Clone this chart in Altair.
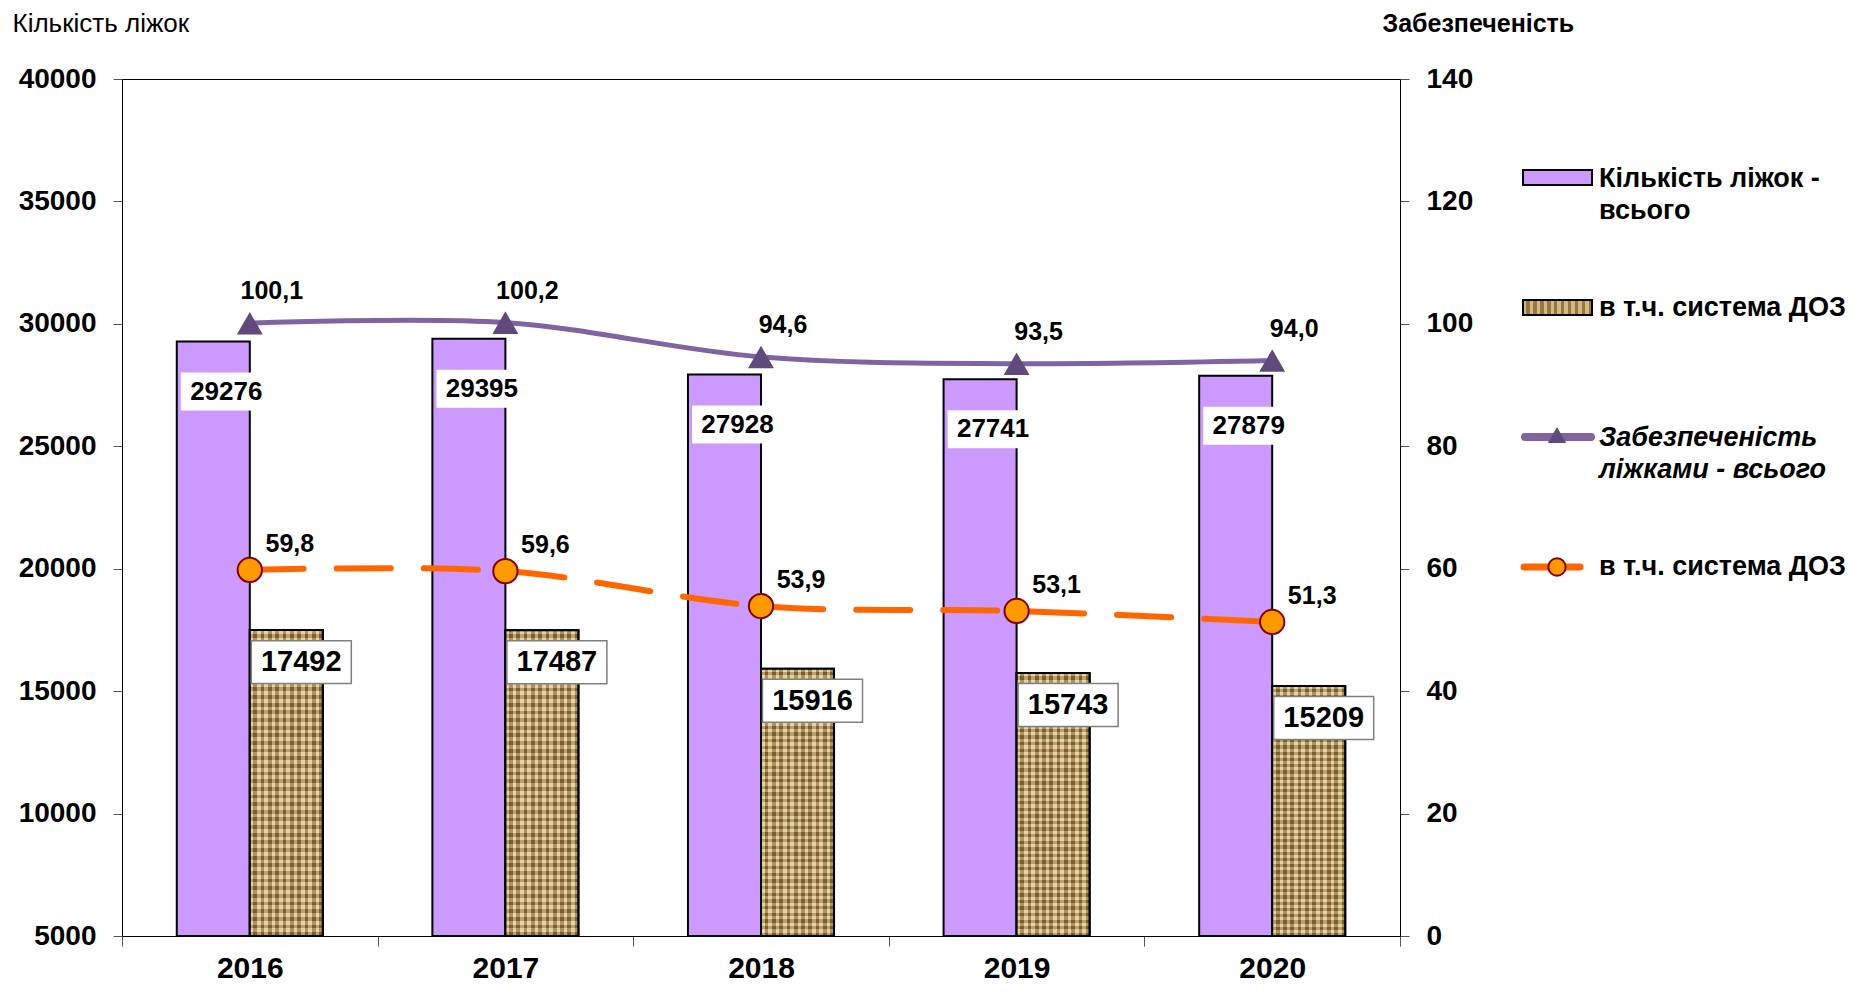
import altair as alt
import pandas as pd

# ---- data ----
years = ["2016", "2017", "2018", "2019", "2020"]
beds_total = [29276, 29395, 27928, 27741, 27879]
beds_doz = [17492, 17487, 15916, 15743, 15209]
supply_total = [100.1, 100.2, 94.6, 93.5, 94.0]
supply_doz = [59.8, 59.6, 53.9, 53.1, 51.3]
left_ticks = [5000, 10000, 15000, 20000, 25000, 30000, 35000, 40000]
right_ticks = [0, 20, 40, 60, 80, 100, 120, 140]
legend_labels = ["Кількість ліжок -", "всього", "в т.ч. система ДОЗ",
                 "Забезпеченість", "ліжками - всього", "в т.ч. система ДОЗ"]
y_title_left = "Кількість ліжок"
y_title_right = "Забезпеченість"

FONT = "Liberation Sans"
W, H = 1278, 857
PURPLE_FILL = "#CC99FF"
BURLAP = "#B89A5E"

bars_df = pd.DataFrame(
    [{"year": y, "s": "total", "value": v} for y, v in zip(years, beds_total)]
    + [{"year": y, "s": "doz", "value": v} for y, v in zip(years, beds_doz)]
)
total_df = bars_df[bars_df.s == "total"]
doz_df = bars_df[bars_df.s == "doz"]

def fmt(v):
    return f"{v:.1f}".replace(".", ",")

line_total_df = pd.DataFrame({"year": years, "value": supply_total,
                              "label": [fmt(v) for v in supply_total]})
line_doz_df = pd.DataFrame({"year": years, "value": supply_doz,
                            "label": [fmt(v) for v in supply_doz]})

# ---- scales / axes ----
xscale = alt.Scale(type="band", paddingInner=0, paddingOuter=0)
xaxis = alt.Axis(title=None, labelFontSize=30, labelFontWeight="bold", labelAngle=0,
                 tickBand="extent", tickSize=10, labelPadding=7,
                 domainColor="black", tickColor="#555")
X = alt.X("year:N", scale=xscale, axis=xaxis, sort=years)
XOFF = alt.XOffset("s:N", scale=alt.Scale(domain=["total", "doz"], paddingInner=0, paddingOuter=0.75))

yscale_l = alt.Scale(domain=[5000, 40000], nice=False, zero=False)
yaxis_l = alt.Axis(values=left_ticks, format="d", title=y_title_left, titleAngle=0,
                   titleX=-110, titleY=-56, titleAlign="left", titleBaseline="middle",
                   titleFontWeight="normal", titleFontSize=26,
                   labelFontSize=28, labelFontWeight="bold", tickSize=9, labelPadding=17,
                   grid=False, domainColor="black", tickColor="#555")
YL = alt.Y("value:Q", scale=yscale_l, axis=yaxis_l)

yscale_r = alt.Scale(domain=[0, 140], nice=False, zero=True)
yaxis_r = alt.Axis(values=right_ticks, format="d", orient="right", title=y_title_right,
                   titleAngle=0, titleX=-18, titleY=-56, titleAlign="left",
                   titleBaseline="middle", titleFontWeight="bold", titleFontSize=25,
                   labelFontSize=28, labelFontWeight="bold", tickSize=9, labelPadding=17,
                   grid=False, domainColor="black", tickColor="#555")
YR = alt.Y("value:Q", scale=yscale_r, axis=yaxis_r)

# ---- burlap texture via striped gradients ----
def stripes(n, vertical, c1, c2):
    stops = []
    for i in range(n):
        a, b, c = i / n, (i + 0.5) / n, (i + 1) / n
        stops += [alt.GradientStop(offset=a, color=c1), alt.GradientStop(offset=b, color=c1),
                  alt.GradientStop(offset=b, color=c2), alt.GradientStop(offset=c, color=c2)]
    if vertical:
        return alt.Gradient(gradient="linear", stops=stops, x1=0, x2=1, y1=0, y2=0)
    return alt.Gradient(gradient="linear", stops=stops, x1=0, x2=0, y1=0, y2=1)

grad_h = stripes(40, False, "rgba(248,232,185,0.55)", "rgba(85,58,20,0.42)")
grad_v = stripes(10, True, "rgba(248,232,185,0.40)", "rgba(85,58,20,0.36)")

# ---- left group: bars ----
bars = alt.Chart(bars_df).mark_bar(stroke="black", strokeWidth=2).encode(
    x=X, xOffset=XOFF, y=YL, y2=alt.datum(5000),
    fill=alt.Fill("s:N", scale=alt.Scale(domain=["total", "doz"], range=[PURPLE_FILL, BURLAP]), legend=None),
)
tex_h = alt.Chart(doz_df).mark_bar(fill=grad_h, strokeWidth=0).encode(
    x=X, xOffset=XOFF, y=YL, y2=alt.datum(5000))
tex_v = alt.Chart(doz_df).mark_bar(fill=grad_v, stroke="black", strokeWidth=2).encode(
    x=X, xOffset=XOFF, y=YL, y2=alt.datum(5000))

BOX_T = "M-1,-0.4176L1,-0.4176L1,0.4176L-1,0.4176Z"   # 91 x 38
BOX_D = "M-1,-0.4286L1,-0.4286L1,0.4286L-1,0.4286Z"   # 98 x 42

box_total = alt.Chart(total_df).mark_point(shape=BOX_T, size=91 * 91, filled=True, fill="white",
                                           opacity=1, strokeWidth=0, xOffset=-23.5, yOffset=50).encode(x=X, y=YL)
txt_total = alt.Chart(total_df).mark_text(font=FONT, fontSize=26, fontWeight="bold", color="black",
                                          dx=-23.5, dy=50, baseline="middle").encode(
    x=X, y=YL, text=alt.Text("value:Q", format="d"))
box_doz = alt.Chart(doz_df).mark_point(shape=BOX_D, size=100 * 100, filled=True, fill="white",
                                       opacity=1, stroke="#808080", strokeWidth=1.5,
                                       xOffset=51.5, yOffset=32).encode(x=X, y=YL)
txt_doz = alt.Chart(doz_df).mark_text(font=FONT, fontSize=29, fontWeight="bold", color="black",
                                      dx=51.5, dy=32, baseline="middle").encode(
    x=X, y=YL, text=alt.Text("value:Q", format="d"))

left = alt.layer(bars, tex_h, tex_v, box_total, txt_total, box_doz, txt_doz)

# ---- right group: lines ----
l_total = alt.Chart(line_total_df).mark_line(color="#8064A2", strokeWidth=5, interpolate="cardinal").encode(x=X, y=YR)
p_total = alt.Chart(line_total_df).mark_point(shape="triangle-up", filled=True, fill="#604A7B",
                                              opacity=1, size=676).encode(x=X, y=YR)
t_total = alt.Chart(line_total_df).mark_text(font=FONT, fontSize=25, fontWeight="bold", color="black",
                                             dx=22, dy=-32).encode(x=X, y=YR, text="label:N")
l_doz = alt.Chart(line_doz_df).mark_line(color="#FF6600", strokeWidth=6, strokeDash=[54, 33],
                                         strokeCap="round", interpolate="cardinal").encode(x=X, y=YR)
p_doz = alt.Chart(line_doz_df).mark_point(shape="circle", filled=True, fill="#FF9900", stroke="#800000",
                                          strokeWidth=2, opacity=1, size=590).encode(x=X, y=YR)
t_doz = alt.Chart(line_doz_df).mark_text(font=FONT, fontSize=25, fontWeight="bold", color="black",
                                         dx=40, dy=-26).encode(x=X, y=YR, text="label:N")

right = alt.layer(l_total, l_doz, p_total, p_doz, t_total, t_doz)

# ---- legend (drawn beside the plot) ----
one = alt.Data(values=[{"k": 1}])
lg = []
lg.append(alt.Chart(one).mark_rect(fill=PURPLE_FILL, stroke="black", strokeWidth=2).encode(
    x=alt.value(1401), x2=alt.value(1470), y=alt.value(91), y2=alt.value(106)))
lg.append(alt.Chart(one).mark_rect(fill=BURLAP).encode(
    x=alt.value(1401), x2=alt.value(1470), y=alt.value(221), y2=alt.value(236)))
lg.append(alt.Chart(one).mark_rect(fill=grad_v, stroke="black", strokeWidth=2).encode(
    x=alt.value(1401), x2=alt.value(1470), y=alt.value(221), y2=alt.value(236)))
lg.append(alt.Chart(one).mark_rule(color="#8064A2", strokeWidth=8, strokeCap="round").encode(
    x=alt.value(1403), x2=alt.value(1469), y=alt.value(358)))
lg.append(alt.Chart(one).mark_point(shape="triangle-up", filled=True, fill="#604A7B", opacity=1, size=340).encode(
    x=alt.value(1435), y=alt.value(356)))
lg.append(alt.Chart(one).mark_rule(color="#FF6600", strokeWidth=7, strokeCap="round").encode(
    x=alt.value(1402), x2=alt.value(1458), y=alt.value(488)))
lg.append(alt.Chart(one).mark_point(shape="circle", filled=True, fill="#FF9900", stroke="#800000",
                                    strokeWidth=2, opacity=1, size=300).encode(
    x=alt.value(1435), y=alt.value(488)))
text_pos = [(108.0, "normal"), (139.5, "normal"), (237.0, "normal"),
            (367.0, "italic"), (398.7, "italic"), (496.0, "normal")]
for lab, (yy, style) in zip(legend_labels, text_pos):
    lg.append(alt.Chart(one).mark_text(font=FONT, fontSize=27, fontWeight="bold", fontStyle=style,
                                       align="left", baseline="alphabetic", color="black").encode(
        x=alt.value(1477), y=alt.value(yy), text=alt.value(lab)))
legend = alt.layer(*lg)

chart = alt.layer(left, right, legend).resolve_scale(y="independent").properties(
    width=W, height=H,
    autosize=alt.AutoSizeParams(type="none"),
    padding={"left": 114, "top": 71, "right": 445, "bottom": 48},
    background="white",
).configure_view(stroke="black", strokeWidth=1).configure_axis(
    labelFont=FONT, titleFont=FONT, labelColor="black", titleColor="black"
).configure_text(font=FONT)

chart.save("out.html", embed_options={"renderer": "svg", "actions": False})
